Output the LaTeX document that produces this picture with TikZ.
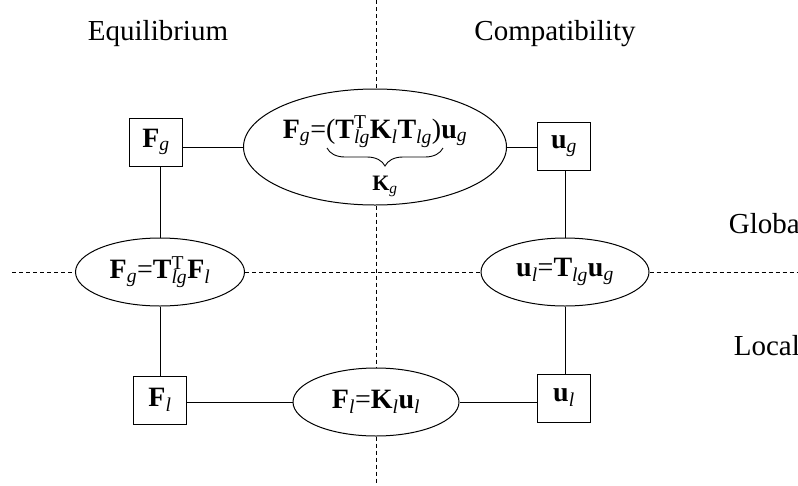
\documentclass[tikz,border=0pt]{standalone}
\usepackage{fontspec}
\setmainfont{Liberation Serif}
\usetikzlibrary{shapes.geometric,decorations.pathreplacing}
\newcommand{\sbi}[1]{\textsubscript{\textit{#1}}}
\newcommand{\bfx}[1]{\textbf{#1}}
\begin{document}
\begin{tikzpicture}[x=1pt,y=-1pt,line width=1pt,
  every node/.style={font=\fontsize{28}{34}\selectfont},
  varbox/.style={draw,minimum width=53pt,minimum height=48pt,inner sep=0pt},
  eq/.style={draw,ellipse,inner sep=0pt},
  sep/.style={dash pattern=on 4pt off 3pt,line width=0.9pt},
  title/.style={font=\fontsize{29}{34}\selectfont}]
\useasboundingbox (0,0) rectangle (798,485);
% titles
\node[title,anchor=base] (teq) at (158,40) {Equilibrium};
\node[title,anchor=base] (tco) at (555,40) {Compatibility};
\node[title,anchor=base west] (tgl) at (725,233) {Global};
\node[title,anchor=base west] (tlo) at (730,355) {Local};
% ellipses
\node[eq,minimum width=263pt,minimum height=116pt] (eT) at (375,147) {};
\node[eq,minimum width=169pt,minimum height=68pt] (eL) at (160,272) {\bfx{F}\sbi{g}=\bfx{T}\rlap{\textsuperscript{T}}\sbi{lg}\bfx{F}\sbi{l}};
\node[eq,minimum width=168pt,minimum height=68pt] (eR) at (565,272) {\bfx{u}\sbi{l}=\bfx{T}\sbi{lg}\bfx{u}\sbi{g}};
\node[eq,minimum width=166pt,minimum height=68pt] (eB) at (376,402) {\bfx{F}\sbi{l}=\bfx{K}\sbi{l}\bfx{u}\sbi{l}};
% formula in top ellipse
\node[anchor=base,inner sep=0pt] (fT) at (375,138) {\bfx{F}\sbi{g}=(\bfx{T}\rlap{\textsuperscript{T}}\sbi{lg}\bfx{K}\sbi{l}\bfx{T}\sbi{lg})\bfx{u}\sbi{g}};
\coordinate (brR) at (443,148);
\coordinate (brL) at (327,148);
\draw[decorate,decoration={brace,amplitude=18pt},line width=0.9pt] (brR) -- (brL);
\node[anchor=base,inner sep=0pt,font=\fontsize{22}{26}\selectfont] (kg) at (385,190) {\bfx{K}\sbi{g}};
% boxes
\node[varbox] (Fg) at (156,142) {\bfx{F}\sbi{g}};
\node[varbox] (ug) at (564,146) {\bfx{u}\sbi{g}};
\node[varbox] (ul) at (564,398) {\bfx{u}\sbi{l}};
\node[varbox] (Fl) at (160,400) {\bfx{F}\sbi{l}};
% connectors
\draw (eT.west) -- (eT.west -| Fg.east);
\draw (eT.east) -- (eT.east -| ug.west);
\draw (eR.north) -- (eR.north |- ug.south);
\draw (eR.south) -- (eR.south |- ul.north);
\draw (eB.east) -- (eB.east -| ul.west);
\draw (eB.west) -- (eB.west -| Fl.east);
\draw (eL.south) -- (eL.south |- Fl.north);
\draw (eL.north) -- (eL.north |- Fg.south);
% separators
\coordinate (vtop) at (376,0);
\coordinate (vbot) at (376,485);
\coordinate (hl) at (12,272);
\coordinate (hr) at (798,272);
\draw[sep] (vtop) -- (vtop |- eT.north);
\draw[sep] (vtop |- eT.south) -- (vtop |- eB.north);
\draw[sep] (vtop |- eB.south) -- (vbot);
\draw[sep] (hl) -- (eL.west);
\draw[sep] (eL.east) -- (eR.west);
\draw[sep] (eR.east) -- (hr);
\end{tikzpicture}
\end{document}
